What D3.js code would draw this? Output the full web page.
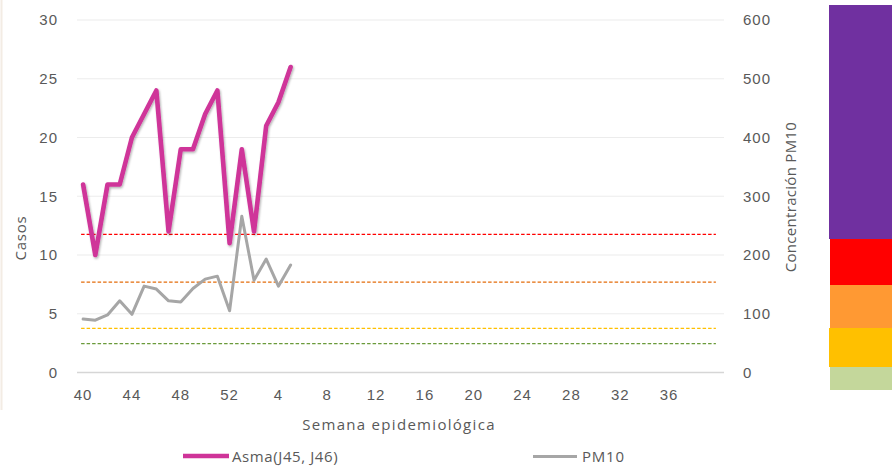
<!DOCTYPE html>
<html><head><meta charset="utf-8">
<script src="https://cdn.jsdelivr.net/npm/d3@7"></script>
<style>
html,body{margin:0;padding:0;background:#fff;}
svg{display:block;font-family:"Open Sans",sans-serif;}
</style></head>
<body><svg id="c" width="892" height="470"></svg>
<script>
// ---- data ----
const weeks = [40,41,42,43,44,45,46,47,48,49,50,51,52,1,2,3,4,5,6,7,8,9,10,11,12,13,14,15,16,17,18,19,20,21,22,23,24,25,26,27,28,29,30,31,32,33,34,35,36,37,38,39,40];
const asma = [16,10,16,16,20,22,24,12,19,19,22,24,11,19,12,21,23,26];
const pm10 = [91,89,98,122,99,147,142,122,120,143,159,164,105,266,157,193,147,183];
const tickLabels = ["40","44","48","52","4","8","12","16","20","24","28","32","36"];
const leftTicks = [0,5,10,15,20,25,30];
const rightTicks = [0,100,200,300,400,500,600];
const thresholds = [235,154,75,49];
const thresholdColors = ["#FF0000","#E46C0A","#FFC000","#6A9A3A"];
const bandColors = ["#7030A0","#FF0000","#FF9933","#FFC000","#C4D79B"];

const svg = d3.select("#c");
const L = 77, R = 724, T = 20, B = 372.5;
const idx = d3.range(weeks.length);
const x = d3.scaleBand().domain(idx).range([L, R]);
const cx = i => x(i) + x.bandwidth()/2;
const yL = d3.scaleLinear().domain([0,30]).range([B, T]);
const yR = d3.scaleLinear().domain([0,600]).range([B, T]);

// left edge faint line
svg.append("line").attr("x1",1.5).attr("x2",1.5).attr("y1",0).attr("y2",410).attr("stroke","#f3ece4").attr("stroke-width",2);

// gridlines
svg.append("g").selectAll("line").data(leftTicks.filter(d=>d>0)).join("line")
  .attr("x1",L).attr("x2",R).attr("y1",d=>yL(d)).attr("y2",d=>yL(d))
  .attr("stroke","#ececec").attr("stroke-width",1.2);
svg.append("line").attr("x1",L).attr("x2",R).attr("y1",B).attr("y2",B).attr("stroke","#d6d6d6").attr("stroke-width",1.3);

// axes
const tickLabelSet = new Set(tickLabels);
const axL = svg.append("g").attr("transform",`translate(${L-19},0)`)
  .call(d3.axisLeft(yL).tickValues(leftTicks).tickSize(0).tickPadding(0));
const axR = svg.append("g").attr("transform",`translate(${R+19},0)`)
  .call(d3.axisRight(yR).tickValues(rightTicks).tickSize(0).tickPadding(0));
const shownIdx = idx.filter(i => i % 4 === 0 && i < 52);
const axB = svg.append("g").attr("transform",`translate(0,${B+17})`)
  .call(d3.axisBottom(x).tickValues(shownIdx).tickFormat(i => tickLabels[shownIdx.indexOf(i)]).tickSize(0).tickPadding(0));
[axL,axR,axB].forEach(a=>{
  a.select(".domain").remove();
  a.selectAll("text").attr("fill","#595959").style("font-size","15px").style("letter-spacing","1px");
});
axB.selectAll("text").attr("dy","0.71em").attr("y",0);

// threshold dashed lines
svg.append("g").selectAll("line").data(thresholds).join("line")
  .attr("x1",cx(0)-2).attr("x2",cx(weeks.length-1)-2)
  .attr("y1",d=>yR(d)).attr("y2",d=>yR(d))
  .attr("stroke",(d,i)=>thresholdColors[i]).attr("stroke-width",1.3)
  .attr("stroke-dasharray","3.5,2");

// shadow filter
const defs = svg.append("defs");
const f = defs.append("filter").attr("id","sh").attr("x","-10%").attr("y","-10%").attr("width","130%").attr("height","130%");
f.append("feDropShadow").attr("dx",1).attr("dy",1.5).attr("stdDeviation",1.2).attr("flood-color","#000").attr("flood-opacity",0.3);

// PM10 line
svg.append("path").datum(pm10)
  .attr("d", d3.line().x((d,i)=>cx(i)).y(d=>yR(d)))
  .attr("fill","none").attr("stroke","#A6A6A6").attr("stroke-width",3).attr("stroke-linejoin","round").attr("stroke-linecap","round");

// Asma line
svg.append("path").datum(asma)
  .attr("d", d3.line().x((d,i)=>cx(i)).y(d=>yL(d)))
  .attr("fill","none").attr("stroke","#CF3499").attr("stroke-width",4.6).attr("stroke-linejoin","round").attr("stroke-linecap","round")
  .attr("filter","url(#sh)");

// axis titles
svg.append("text").attr("transform","translate(26,238) rotate(-90)").attr("text-anchor","middle")
  .attr("fill","#595959").style("font-size","15px").style("letter-spacing","0.8px").text("Casos");
svg.append("text").attr("transform","translate(796,197) rotate(-90)").attr("text-anchor","middle")
  .attr("fill","#595959").style("font-size","15px").style("letter-spacing","0.3px").text("Concentración PM10");
svg.append("text").attr("x",399).attr("y",430).attr("text-anchor","middle")
  .attr("fill","#595959").style("font-size","15px").style("letter-spacing","1.3px").text("Semana epidemiológica");

// legend
const lg = svg.append("g");
lg.append("line").attr("x1",183).attr("x2",229).attr("y1",456).attr("y2",456).attr("stroke","#CF3499").attr("stroke-width",4.6);
lg.append("text").attr("x",232).attr("y",461.5).attr("fill","#595959").style("font-size","15px").style("letter-spacing","0.6px").text("Asma(J45, J46)");
lg.append("line").attr("x1",533).attr("x2",577).attr("y1",456.5).attr("y2",456.5).attr("stroke","#A6A6A6").attr("stroke-width",3);
lg.append("text").attr("x",582).attr("y",462).attr("fill","#595959").style("font-size","15px").style("letter-spacing","0.8px").text("PM10");

// colour band legend (right)
const bandEdges = [5,239,285,328,367,390];
svg.append("g").selectAll("rect").data(bandColors).join("rect")
  .attr("x",(d,i)=> (i===0||i===3)?829:830).attr("width",63)
  .attr("y",(d,i)=>bandEdges[i]).attr("height",(d,i)=>bandEdges[i+1]-bandEdges[i])
  .attr("fill",d=>d);
</script></body></html>
